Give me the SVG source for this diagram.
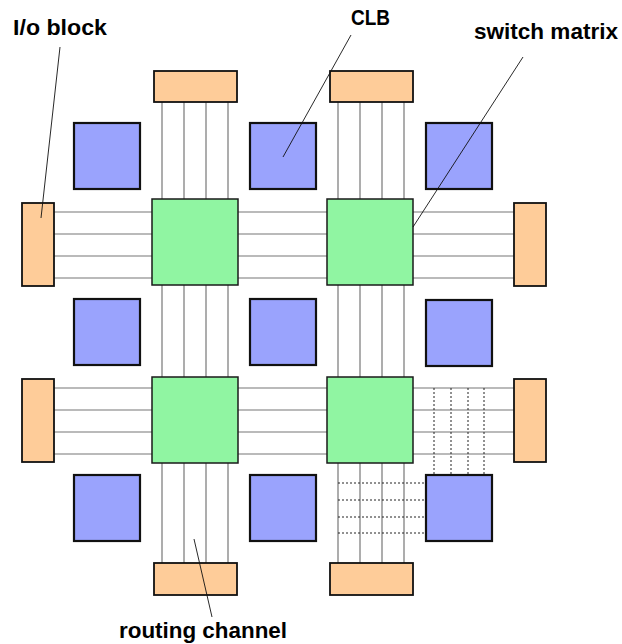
<svg xmlns="http://www.w3.org/2000/svg" width="622" height="644" viewBox="0 0 622 644">
<style>
.io{fill:#FECC99;stroke:#111;stroke-width:1.8}
.clb{fill:#9AA3FD;stroke:#111;stroke-width:2.2}
.sw{fill:#90F5A2;stroke:#1a1a1a;stroke-width:1.5}
.w{stroke:#777;stroke-width:1.2;fill:none}
.d{stroke:#222;stroke-width:1;stroke-dasharray:2,2;fill:none}
.lead{stroke:#111;stroke-width:0.9;fill:none}
.t{font-family:"Liberation Sans",Arial,sans-serif;font-weight:bold;font-size:22px;fill:#000}
</style>
<rect width="622" height="644" fill="#fff"/>
<g id="connectors">
<path class="w" d="M54 212H514M54 234H514M54 256H514M54 278H514"/>
<path class="w" d="M54 388H514M54 410H514M54 432H514M54 454H514"/>
<path class="w" d="M162 102V563M184 102V563M206 102V563M228 102V563"/>
<path class="w" d="M338 102V563M360 102V563M382 102V563M404 102V563"/>
<path class="d" d="M434 388V475M451 388V475M468 388V475M484 388V475"/>
<path class="d" d="M338 483H426M338 500H426M338 517H426M338 533H426"/>
</g>
<g id="io-top-1"><rect class="io" x="154" y="71" width="83" height="31"/></g>
<g id="io-top-2"><rect class="io" x="330" y="71" width="83" height="31"/></g>
<g id="io-bottom-1"><rect class="io" x="154" y="563" width="83" height="32"/></g>
<g id="io-bottom-2"><rect class="io" x="330" y="563" width="83" height="32"/></g>
<g id="io-left-1"><rect class="io" x="22" y="203" width="32" height="83"/></g>
<g id="io-left-2"><rect class="io" x="22" y="379" width="32" height="83"/></g>
<g id="io-right-1"><rect class="io" x="514" y="203" width="32" height="83"/></g>
<g id="io-right-2"><rect class="io" x="514" y="379" width="32" height="83"/></g>
<g id="clb-1"><rect class="clb" x="74" y="123" width="66" height="66"/></g>
<g id="clb-2"><rect class="clb" x="250" y="123" width="66" height="66"/></g>
<g id="clb-3"><rect class="clb" x="426" y="123" width="66" height="66"/></g>
<g id="clb-4"><rect class="clb" x="74" y="299" width="66" height="66"/></g>
<g id="clb-5"><rect class="clb" x="250" y="299" width="66" height="66"/></g>
<g id="clb-6"><rect class="clb" x="426" y="300" width="66" height="66"/></g>
<g id="clb-7"><rect class="clb" x="74" y="475" width="66" height="66"/></g>
<g id="clb-8"><rect class="clb" x="250" y="475" width="66" height="66"/></g>
<g id="clb-9"><rect class="clb" x="426" y="475" width="66" height="66"/></g>
<g id="sw-1"><rect class="sw" x="152" y="199" width="86" height="86"/></g>
<g id="sw-2"><rect class="sw" x="327" y="199" width="86" height="86"/></g>
<g id="sw-3"><rect class="sw" x="152" y="377" width="86" height="86"/></g>
<g id="sw-4"><rect class="sw" x="327" y="377" width="86" height="86"/></g>
<g id="labels">
<path class="lead" d="M60 47L41 218"/>
<path class="lead" d="M351 35L283 157"/>
<path class="lead" d="M523 57L413 227"/>
<path class="lead" d="M194 539L212 617"/>
<text class="t" x="13" y="35" textLength="94" lengthAdjust="spacingAndGlyphs">I/o block</text>
<text class="t" x="351" y="25" textLength="39" lengthAdjust="spacingAndGlyphs">CLB</text>
<text class="t" x="474" y="39" textLength="144" lengthAdjust="spacingAndGlyphs">switch matrix</text>
<text class="t" x="119" y="638" textLength="168" lengthAdjust="spacingAndGlyphs">routing channel</text>
</g>
</svg>
